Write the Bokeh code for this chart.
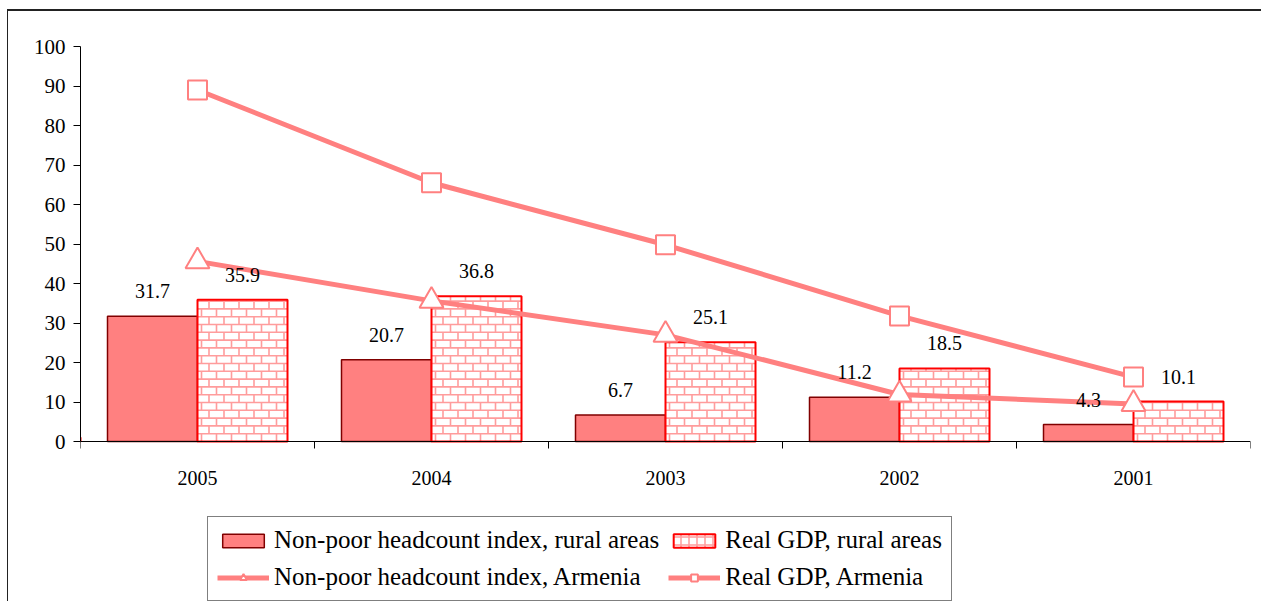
from bokeh.plotting import figure
from bokeh.models import (ColumnDataSource, Range1d, FixedTicker, Legend, LegendItem,
                          SingleIntervalTicker)
from bokeh.core.properties import value
from bokeh.embed import file_html
from bokeh.resources import INLINE

years = ["2005", "2004", "2003", "2002", "2001"]
nonpoor_rural = [31.7, 20.7, 6.7, 11.2, 4.3]
gdp_rural = [35.9, 36.8, 25.1, 18.5, 10.1]
nonpoor_armenia = [45.6, 35.6, 27.0, 11.9, 9.5]
gdp_armenia = [89.0, 65.5, 49.8, 31.8, 16.3]
series_labels = ["Non-poor headcount index, rural areas", "Real GDP, rural areas",
                 "Non-poor headcount index, Armenia", "Real GDP, Armenia"]

FONT = "Liberation Serif"
PINK = "#FF8080"
BRICK = "#FF9C9C"

W, H = 1254, 592
TOP = 35
FRAME_W = 1170
PX_PER_UNIT = 3.95
frame_h = H - TOP
y_start = 100 - frame_h / PX_PER_UNIT

p = figure(width=W, height=H, output_backend="svg", toolbar_location=None,
           x_range=Range1d(0, 5), y_range=Range1d(y_start, 100),
           min_border_left=72, min_border_right=W - 72 - FRAME_W,
           min_border_top=TOP, min_border_bottom=0)
p.styles = {"margin-left": "7px", "margin-top": "9px",
            "border-left": "1px solid #222", "border-top": "2px solid #222"}
p.outline_line_color = None
p.xgrid.visible = False
p.ygrid.visible = False
p.background_fill_color = "white"
p.border_fill_color = "white"

n = len(years)
centers = [i + 0.5 for i in range(n)]
bw = 90 / 234
src = ColumnDataSource(dict(
    xc=centers,
    x1=[c - bw / 2 for c in centers],
    x2=[c + bw / 2 for c in centers],
    np_r=nonpoor_rural, gdp_r=gdp_rural, np_a=nonpoor_armenia, gdp_a=gdp_armenia,
    np_r_lbl=[f"{v:.1f}" for v in nonpoor_rural],
    gdp_r_lbl=[f"{v:.1f}" for v in gdp_rural],
))

# brick texture lines for the "Real GDP, rural areas" bars (derived from bar geometry)
px_x = 5 / FRAME_W
px_y = 1 / PX_PER_UNIT
row_h = 7.8 * px_y
brick_w = 15 * px_x
bx0, by0, bx1, by1 = [], [], [], []
for c, top in zip(centers, gdp_rural):
    left = c
    right = c + bw
    k = 0
    while k * row_h < top:
        y_lo = k * row_h
        y_hi = min((k + 1) * row_h, top)
        if k > 0:
            bx0.append(left); bx1.append(right); by0.append(y_lo); by1.append(y_lo)
        xs = left + (4 * px_x if k % 2 == 0 else 11.5 * px_x)
        while xs < right - 1 * px_x:
            bx0.append(xs); bx1.append(xs); by0.append(y_lo); by1.append(y_hi)
            xs += brick_w
        k += 1
brick_src = ColumnDataSource(dict(x0=bx0, y0=by0, x1=bx1, y1=by1))

r_np = p.vbar(x="x1", top="np_r", width=bw, bottom=0, source=src,
              fill_color=PINK, line_color="#800000", line_width=1.5)
p.vbar(x="x2", top="gdp_r", width=bw, bottom=0, source=src,
       fill_color="white", line_color=None)
p.segment(x0="x0", y0="y0", x1="x1", y1="y1", source=brick_src,
          line_color=BRICK, line_width=1.6)
p.vbar(x="x2", top="gdp_r", width=bw, bottom=0, source=src,
       fill_color=None, line_color="#FF0000", line_width=2)

l_np = p.line(x="xc", y="np_a", source=src, line_color=PINK, line_width=5)
m_np = p.scatter(x="xc", y="np_a", source=src, marker="triangle", size=24,
                 fill_color="white", line_color=PINK, line_width=2)
l_gdp = p.line(x="xc", y="gdp_a", source=src, line_color=PINK, line_width=5)
m_gdp = p.scatter(x="xc", y="gdp_a", source=src, marker="square", size=19,
                  fill_color="white", line_color=PINK, line_width=2)

p.text(x="x1", y="np_r", text="np_r_lbl", source=src, text_align="center",
       text_baseline="middle", y_offset=-25, text_font=value(FONT),
       text_font_size="20px", text_color="black")
p.text(x="x2", y="gdp_r", text="gdp_r_lbl", source=src, text_align="center",
       text_baseline="middle", y_offset=-25, text_font=value(FONT),
       text_font_size="20px", text_color="black")

# legend-only glyph for the brick bars (placed outside the visible x range)
legend_gdp = p.vbar(x=[-10], top=[1], width=bw, fill_color="white",
                    line_color="#FF0000", line_width=2,
                    hatch_pattern="cross", hatch_color=BRICK, hatch_scale=8,
                    hatch_weight=1.5)

# axes
yax = p.yaxis[0]
yax.bounds = (0, 100)
yax.ticker = SingleIntervalTicker(interval=10)
yax.minor_tick_line_color = None
yax.major_tick_in = 0
yax.major_tick_out = 7
yax.major_label_standoff = 8
yax.major_label_text_font = FONT
yax.major_label_text_font_size = "21px"
yax.major_label_text_color = "black"
yax.axis_line_color = "black"
yax.major_tick_line_color = "black"

xax = p.xaxis[0]
xax.fixed_location = 0
xax.ticker = FixedTicker(ticks=centers, minor_ticks=[float(i) for i in range(n + 1)])
xax.major_label_overrides = {c: y for c, y in zip(centers, years)}
xax.major_tick_in = 0
xax.major_tick_out = 0
xax.minor_tick_in = 0
xax.minor_tick_out = 7
xax.minor_tick_line_color = "black"
xax.major_label_standoff = 22
xax.major_label_text_font = FONT
xax.major_label_text_font_size = "20px"
xax.major_label_text_color = "black"
xax.axis_line_color = "black"

legend = Legend(items=[
    LegendItem(label=series_labels[0], renderers=[r_np]),
    LegendItem(label=series_labels[1], renderers=[legend_gdp]),
    LegendItem(label=series_labels[2], renderers=[l_np, m_np]),
    LegendItem(label=series_labels[3], renderers=[l_gdp, m_gdp]),
], location=(127, 2), orientation="horizontal", ncols=2,
   glyph_width=52, glyph_height=17, label_standoff=5, spacing=9, padding=9, margin=0,
   label_text_font=FONT, label_text_font_size="25px", label_text_color="black",
   border_line_color="black", border_line_width=1, background_fill_color="white")
p.add_layout(legend, "center")

open("out.html", "w").write(file_html(p, INLINE))
